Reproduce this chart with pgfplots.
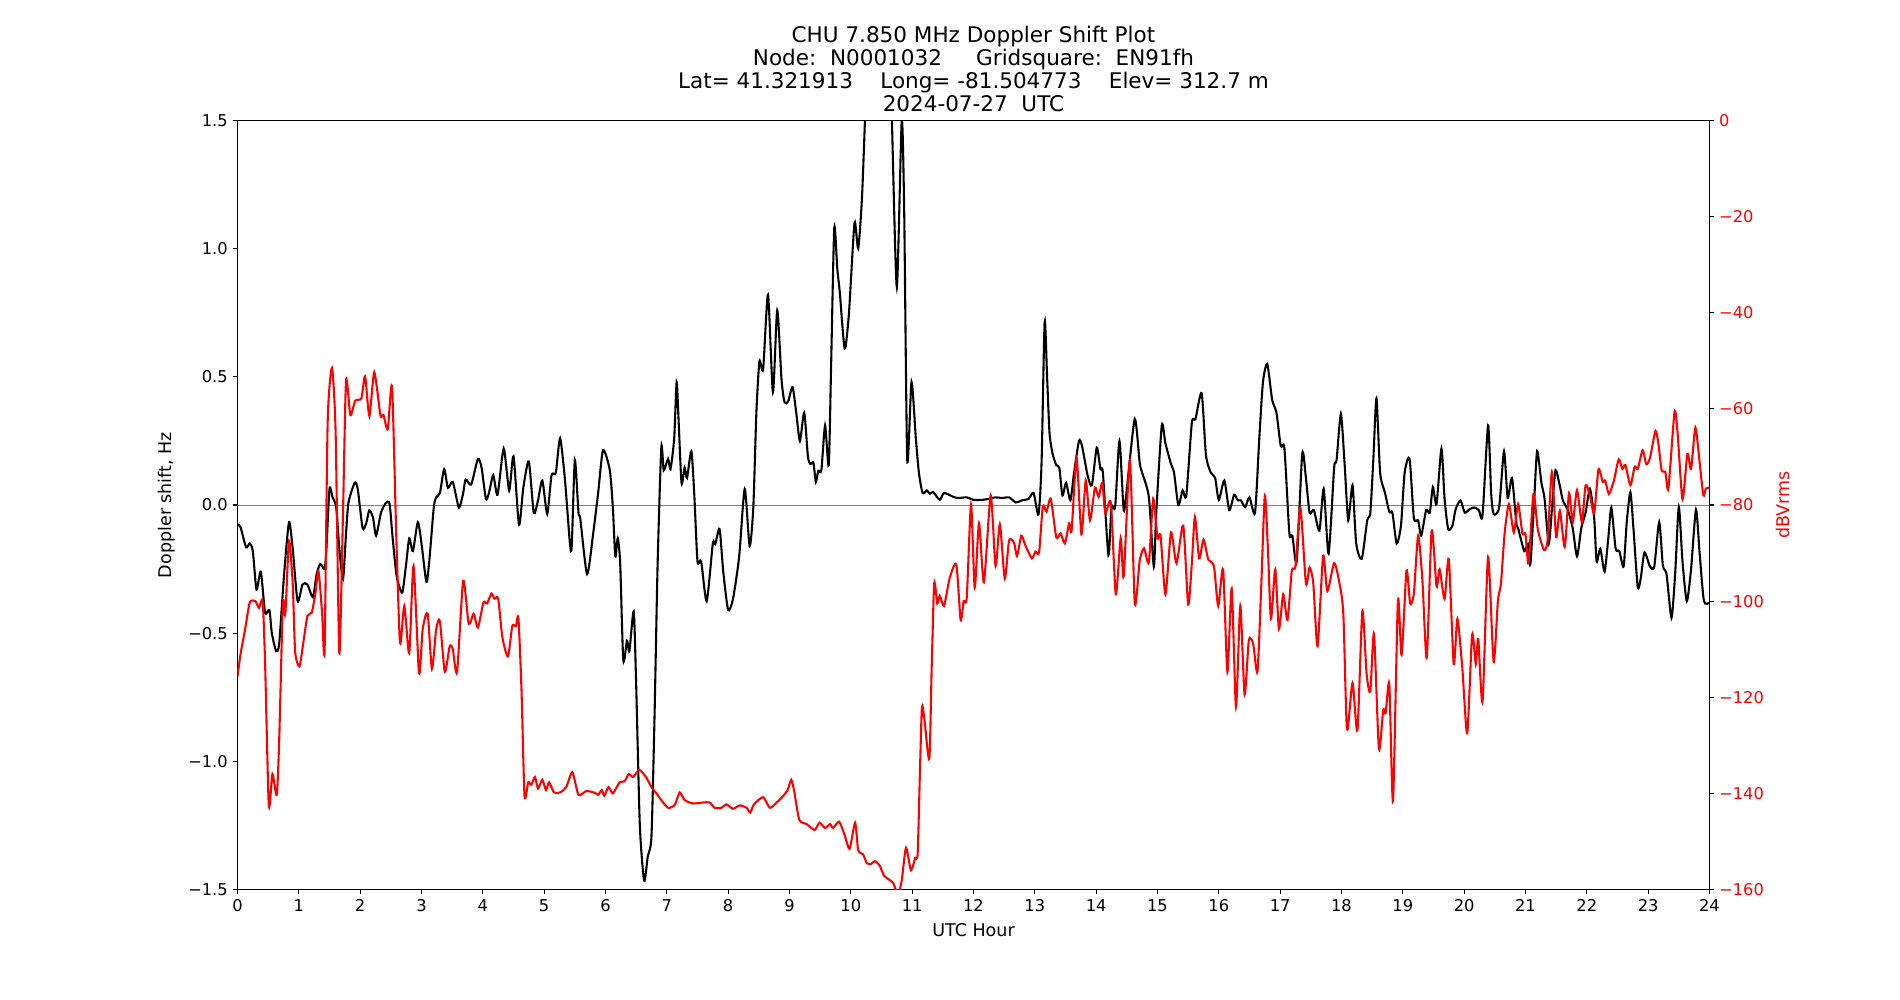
\documentclass[border=0pt]{standalone}
\usepackage{fontspec}
\setmainfont{DejaVu Sans}
\usepackage{pgfplots}
\pgfplotsset{compat=1.18}
\usepackage{pgfplotstable}

\pgfplotstableread{
h d
0 -0.075
0.05 -0.087
0.14 -0.165
0.20 -0.15
0.25 -0.18
0.31 -0.33
0.38 -0.26
0.45 -0.42
0.52 -0.41
0.56 -0.50
0.63 -0.57
0.68 -0.54
0.76 -0.27
0.84 -0.067
0.90 -0.17
0.98 -0.375
1.06 -0.31
1.14 -0.31
1.23 -0.36
1.29 -0.27
1.35 -0.23
1.42 -0.25
1.45 -0.17
1.50 0.063
1.55 0.03
1.61 -0.01
1.66 -0.17
1.72 -0.29
1.77 -0.11
1.81 0.01
1.91 0.086
1.96 0.063
2.04 -0.09
2.10 -0.07
2.15 -0.02
2.21 -0.05
2.26 -0.12
2.34 -0.03
2.42 0.008
2.48 0.004
2.53 -0.13
2.59 -0.27
2.64 -0.32
2.69 -0.34
2.75 -0.23
2.80 -0.13
2.86 -0.18
2.94 -0.067
3.00 -0.15
3.08 -0.30
3.13 -0.21
3.20 -0.01
3.24 0.03
3.30 0.047
3.37 0.14
3.43 0.067
3.51 0.09
3.61 -0.01
3.68 0.047
3.72 0.10
3.81 0.08
3.92 0.18
3.98 0.145
4.05 0.024
4.10 0.047
4.17 0.116
4.24 0.04
4.34 0.22
4.43 0.057
4.50 0.19
4.59 -0.077
4.66 0.067
4.75 0.17
4.83 -0.03
4.90 0.018
4.97 0.096
5.05 -0.035
5.12 0.116
5.19 0.126
5.26 0.26
5.34 0.096
5.42 -0.15
5.45 -0.16
5.50 0.175
5.56 -0.03
5.59 -0.055
5.70 -0.27
5.80 -0.11
5.88 0.047
5.96 0.214
6.07 0.136
6.12 -0.01
6.16 -0.2
6.20 -0.13
6.24 -0.23
6.29 -0.605
6.35 -0.53
6.39 -0.57
6.46 -0.415
6.50 -0.70
6.56 -1.25
6.63 -1.465
6.69 -1.37
6.75 -1.29
6.80 -0.82
6.85 -0.23
6.91 0.224
6.95 0.136
7.02 0.18
7.06 0.14
7.12 0.26
7.16 0.48
7.19 0.34
7.24 0.086
7.29 0.145
7.33 0.106
7.40 0.21
7.45 0.03
7.50 -0.22
7.56 -0.22
7.65 -0.375
7.75 -0.15
7.79 -0.153
7.86 -0.094
7.92 -0.26
8.00 -0.41
8.08 -0.365
8.18 -0.2
8.27 0.063
8.35 -0.16
8.41 -0.01
8.46 0.36
8.51 0.56
8.57 0.53
8.65 0.82
8.73 0.44
8.80 0.76
8.87 0.49
8.92 0.40
8.98 0.405
9.05 0.46
9.11 0.36
9.17 0.25
9.24 0.36
9.30 0.19
9.34 0.16
9.39 0.165
9.43 0.09
9.47 0.134
9.52 0.136
9.58 0.31
9.64 0.155
9.68 0.56
9.73 1.08
9.78 0.92
9.82 0.83
9.90 0.61
9.97 0.75
10.06 1.10
10.12 1.0
10.18 1.19
10.23 1.50
10.28 1.9
10.62 1.9
10.67 1.50
10.75 0.85
10.83 1.50
10.87 1.15
10.92 0.175
10.99 0.48
11.06 0.26
11.11 0.126
11.17 0.047
11.24 0.057
11.29 0.043
11.34 0.051
11.45 0.02
11.52 0.047
11.67 0.032
11.75 0.027
11.89 0.03
12.00 0.02
12.14 0.02
12.25 0.024
12.36 0.03
12.47 0.027
12.58 0.03
12.69 0.01
12.79 0.018
12.90 0.024
12.98 0.047
13.06 -0.037
13.11 0.165
13.16 0.715
13.20 0.50
13.24 0.28
13.29 0.2
13.35 0.155
13.40 0.145
13.45 0.037
13.51 0.086
13.58 0.018
13.64 0.126
13.72 0.25
13.77 0.23
13.86 0.116
13.93 0.077
14.01 0.224
14.07 0.14
14.11 0.126
14.20 -0.195
14.25 -0.01
14.31 -0.006
14.38 0.25
14.45 -0.02
14.51 0.086
14.63 0.336
14.71 0.165
14.75 0.126
14.86 0.03
14.94 -0.24
14.98 -0.03
15.07 0.31
15.13 0.24
15.22 0.16
15.27 0.126
15.34 0.0
15.41 0.057
15.47 0.037
15.56 0.32
15.62 0.336
15.72 0.436
15.79 0.195
15.87 0.126
15.94 0.106
16.00 0.02
16.09 0.096
16.17 -0.02
16.25 0.04
16.31 0.018
16.36 0.018
16.43 -0.008
16.50 0.03
16.59 -0.03
16.66 0.26
16.72 0.48
16.79 0.55
16.87 0.41
16.94 0.36
17.01 0.23
17.07 0.22
17.15 -0.11
17.20 -0.12
17.27 -0.22
17.36 0.2
17.42 0.106
17.48 -0.03
17.55 -0.02
17.64 -0.1
17.71 0.063
17.79 -0.19
17.88 0.145
17.92 0.175
17.99 0.355
18.05 0.165
18.11 -0.06
18.18 0.077
18.24 -0.15
18.33 -0.21
18.42 -0.06
18.47 -0.03
18.52 0.18
18.57 0.416
18.63 0.126
18.71 0.047
18.78 -0.027
18.83 -0.03
18.90 -0.15
18.97 -0.08
19.03 0.126
19.11 0.18
19.18 -0.05
19.25 -0.06
19.30 -0.12
19.38 -0.02
19.44 -0.03
19.49 0.07
19.55 0.004
19.63 0.22
19.68 0.027
19.74 -0.094
19.81 -0.08
19.86 -0.018
19.94 0.018
20.01 -0.03
20.09 -0.016
20.17 -0.01
20.24 -0.02
20.30 -0.04
20.39 0.31
20.44 0.047
20.48 -0.035
20.57 -0.01
20.65 0.21
20.71 0.027
20.78 0.106
20.85 -0.07
20.88 -0.09
20.98 -0.18
21.04 -0.153
21.08 -0.23
21.14 0.008
21.19 0.21
21.26 0.086
21.31 0.027
21.38 -0.15
21.44 0.012
21.49 0.136
21.55 0.086
21.61 0.018
21.69 -0.02
21.77 -0.09
21.84 -0.2
21.91 -0.09
21.98 -0.03
22.05 0.063
22.12 -0.05
22.16 -0.22
22.22 -0.17
22.29 -0.26
22.35 -0.13
22.40 -0.01
22.47 -0.17
22.53 -0.18
22.60 -0.24
22.65 -0.07
22.71 0.05
22.76 -0.09
22.83 -0.32
22.88 -0.285
22.94 -0.185
23.03 -0.24
23.10 -0.24
23.18 -0.067
23.24 -0.236
23.30 -0.27
23.38 -0.44
23.44 -0.27
23.50 -0.008
23.56 -0.22
23.63 -0.375
23.70 -0.25
23.78 -0.018
23.84 -0.19
23.91 -0.375
24.0 -0.38
}\doppler

\pgfplotstableread{
h db
0 -115.7
0.05 -111
0.125 -105.8
0.2 -100.3
0.29 -100
0.35 -101.4
0.41 -100
0.45 -113
0.51 -142.4
0.57 -136
0.64 -140.3
0.68 -128.8
0.74 -100.5
0.78 -102.6
0.84 -87.4
0.90 -96.3
0.94 -110.5
1.01 -113.6
1.07 -108.9
1.14 -103.1
1.21 -102.4
1.27 -98.4
1.32 -93.7
1.38 -102.6
1.42 -110.3
1.47 -62.8
1.54 -51.5
1.60 -65
1.66 -110.8
1.72 -81.7
1.77 -54.1
1.84 -61.3
1.92 -58.3
2.02 -57.8
2.08 -53.2
2.15 -61.5
2.23 -52.4
2.33 -61.3
2.38 -61.3
2.45 -64.2
2.52 -55.5
2.59 -87
2.65 -108.7
2.72 -101
2.80 -110.8
2.87 -92.7
2.96 -115
3.02 -105.8
3.10 -102.6
3.17 -114.1
3.24 -105.8
3.30 -104.2
3.38 -114.7
3.46 -109.4
3.51 -110
3.58 -114.7
3.68 -95.8
3.77 -104.7
3.85 -102.6
3.92 -105.5
4.01 -100.3
4.07 -100.5
4.14 -98.4
4.19 -99.5
4.25 -99.5
4.32 -107.6
4.41 -111.5
4.48 -105.2
4.54 -105.2
4.58 -103.5
4.63 -118.3
4.68 -140.5
4.74 -137.7
4.79 -138.2
4.85 -136.6
4.90 -139
4.97 -137.2
5.03 -139.3
5.08 -137.7
5.16 -139.8
5.26 -139.8
5.36 -138.7
5.46 -135.6
5.56 -140.3
5.69 -139.5
5.83 -139.9
5.88 -140.3
5.94 -139.3
5.98 -140.5
6.05 -138.7
6.12 -140
6.23 -137.7
6.31 -137.5
6.38 -136
6.45 -136.6
6.55 -135.1
6.66 -136.6
6.75 -138.7
6.83 -140
6.91 -141.4
7.02 -143
7.13 -142.4
7.21 -139.8
7.29 -141.4
7.43 -142.1
7.59 -141.9
7.70 -141.9
7.78 -143
7.89 -143
7.97 -142.3
8.08 -143.2
8.19 -142.5
8.30 -143
8.36 -144
8.42 -142.3
8.57 -140.8
8.68 -143
8.79 -141.9
8.88 -140.8
8.97 -139.3
9.03 -137.2
9.08 -139.8
9.16 -145.5
9.28 -146.4
9.41 -147.6
9.49 -146.1
9.58 -147.2
9.66 -146.4
9.71 -147.2
9.81 -145.9
9.90 -148.7
9.98 -151.5
10.07 -146.1
10.12 -151.8
10.20 -152.7
10.26 -154.5
10.33 -154.7
10.39 -154.1
10.47 -155
10.54 -157.1
10.64 -158.1
10.69 -158.6
10.77 -161
10.83 -158.1
10.90 -151.3
10.98 -156
11.05 -153.4
11.09 -152.4
11.13 -134
11.16 -122
11.20 -124.6
11.28 -132.8
11.32 -113
11.36 -96.3
11.41 -100.5
11.45 -98.9
11.52 -101
11.61 -95.3
11.72 -92.4
11.79 -103.9
11.84 -100
11.89 -99.3
11.96 -79.9
12.02 -97.2
12.09 -83.8
12.17 -96.1
12.28 -78
12.36 -92.7
12.43 -84
12.51 -95.3
12.58 -87.4
12.66 -87.8
12.71 -90.6
12.78 -86.4
12.84 -88.2
12.95 -91.1
13.01 -89.7
13.07 -89.8
13.13 -80.3
13.19 -81.4
13.26 -78.7
13.35 -86.7
13.42 -85.9
13.49 -88
13.56 -83.8
13.60 -85.3
13.68 -70.2
13.76 -86.1
13.83 -74.9
13.90 -83.2
13.98 -76.4
14.04 -78.3
14.10 -75.4
14.15 -81.7
14.24 -79.6
14.32 -98.6
14.40 -86.9
14.45 -94.8
14.55 -70.7
14.63 -100.5
14.71 -91.6
14.78 -89
14.86 -91.9
14.93 -78.7
15.00 -86.9
15.05 -86.4
15.13 -98.6
15.22 -85.7
15.31 -92.1
15.42 -84.3
15.50 -100.7
15.56 -92.1
15.61 -82.5
15.68 -91.1
15.75 -87.2
15.83 -91.4
15.92 -92.7
15.99 -101
16.07 -93.4
16.14 -114.7
16.21 -97.4
16.28 -122
16.35 -101
16.42 -119.4
16.49 -108.1
16.56 -108.9
16.63 -114.7
16.69 -97.4
16.75 -78
16.80 -89
16.85 -103.7
16.92 -93.4
16.98 -105.8
17.05 -98.6
17.12 -103.9
17.19 -93.7
17.25 -92.7
17.33 -80.6
17.42 -96.3
17.48 -93
17.54 -96.3
17.61 -109.4
17.70 -90.6
17.77 -97.9
17.88 -92.1
17.96 -95.8
18.03 -102.6
18.09 -126.7
18.18 -117
18.26 -126.9
18.34 -102.1
18.41 -115.2
18.47 -118.8
18.53 -106.8
18.61 -130.7
18.68 -122.7
18.72 -123.3
18.78 -117.3
18.84 -141.6
18.92 -100
18.98 -111.2
19.06 -93.7
19.12 -100.5
19.18 -98.4
19.25 -86.4
19.32 -95.8
19.39 -111.8
19.47 -85.3
19.55 -96.9
19.60 -93.4
19.68 -99.5
19.75 -91.3
19.83 -113.1
19.89 -103.7
19.97 -113.9
20.05 -127.5
20.13 -107
20.19 -113.1
20.23 -107.9
20.30 -120.9
20.39 -90.8
20.48 -112.6
20.55 -100
20.60 -96.3
20.66 -85.9
20.73 -79.8
20.81 -85.7
20.88 -79.8
20.95 -85.9
21.00 -86.1
21.05 -92.1
21.13 -77.7
21.20 -85
21.30 -89.3
21.36 -87.4
21.43 -73.1
21.50 -86.7
21.56 -81.2
21.64 -88.7
21.71 -77.5
21.77 -83.6
21.84 -76.9
21.92 -83.6
21.98 -75.9
22.05 -78
22.12 -81.7
22.19 -72.6
22.26 -75.2
22.30 -74.9
22.36 -77.7
22.44 -75
22.52 -70.5
22.58 -72.5
22.63 -71.7
22.71 -75.9
22.78 -72
22.83 -72.5
22.91 -68.6
22.97 -71.5
23.03 -70.2
23.12 -64.6
23.17 -67.5
23.22 -72.8
23.28 -73.1
23.33 -76.6
23.43 -60.7
23.48 -65
23.56 -78.8
23.64 -69.4
23.70 -72.5
23.77 -63.9
23.84 -71.2
23.90 -78
23.94 -76.6
24.0 -76.4
}\power

\definecolor{mplred}{rgb}{1,0,0}
\definecolor{zgray}{rgb}{0.5,0.5,0.5}

\pgfplotsset{
  common/.style={
    width=1059.84pt, height=553.68pt, scale only axis,
    at={(0,0)}, anchor=south west,
    xmin=0, xmax=24,
    tick align=outside,
    major tick length=3.5pt,
    every tick/.style={black, line width=0.8pt},
    axis line style={line width=0.8pt},
    tick label style={font=\fontsize{11.7}{14}\selectfont},
    label style={font=\fontsize{12.6}{15}\selectfont},
  }
}

\begin{document}
\begin{tikzpicture}
\path[use as bounding box] (-171pt,-79.56pt) rectangle (1197pt,640.44pt);
\begin{axis}[common,
  ymin=-1.5, ymax=1.5,
  xtick={0,1,...,24},
  xticklabels={0,1,2,3,4,5,6,7,8,9,10,11,12,13,14,15,16,17,18,19,20,21,22,23,24},
  ytick={-1.5,-1,-0.5,0,0.5,1,1.5},
  yticklabels={−1.5,−1.0,−0.5,0.0,0.5,1.0,1.5},
  xtick pos=bottom, ytick pos=left,
  xlabel={UTC Hour},
  ylabel={Doppler shift, Hz},
  xlabel style={at={(axis description cs:0.5,0)}, anchor=center, yshift=-29pt},
  ylabel style={at={(axis description cs:0,0.5)}, anchor=center, rotate=0, yshift=50.8pt},
  title={CHU 7.850 MHz Doppler Shift Plot\\Node:\ \ N0001032\ \ \ \ \ Gridsquare:\ \ EN91fh\\Lat= 41.321913\ \ \ \ Long= -81.504773\ \ \ \ Elev= 312.7 m\\2024-07-27\ \ UTC},
  title style={at={(axis description cs:0.5,1)}, anchor=south, align=center, inner sep=0pt, yshift=0pt, font=\fontsize{15.5}{16.5}\selectfont},
]
\addplot[zgray, line width=0.7pt] coordinates {(0,0) (24,0)};
\addplot[black, line width=1.5pt, smooth, tension=0.4] table[x=h, y=d] {\doppler};
\end{axis}
\begin{axis}[common,
  ymin=-160, ymax=0,
  axis x line=none,
  axis y line*=right,
  ytick={-160,-140,...,0},
  yticklabels={−160,−140,−120,−100,−80,−60,−40,−20,0},
  ytick pos=right,
  yticklabel style={mplred},
  ylabel={dBVrms},
  ylabel style={at={(axis description cs:1,0.5)}, anchor=center, yshift=-53pt, mplred},
]
\addplot[mplred, line width=1.5pt, smooth, tension=0.4] table[x=h, y=db] {\power};
\end{axis}
\end{tikzpicture}
\end{document}
